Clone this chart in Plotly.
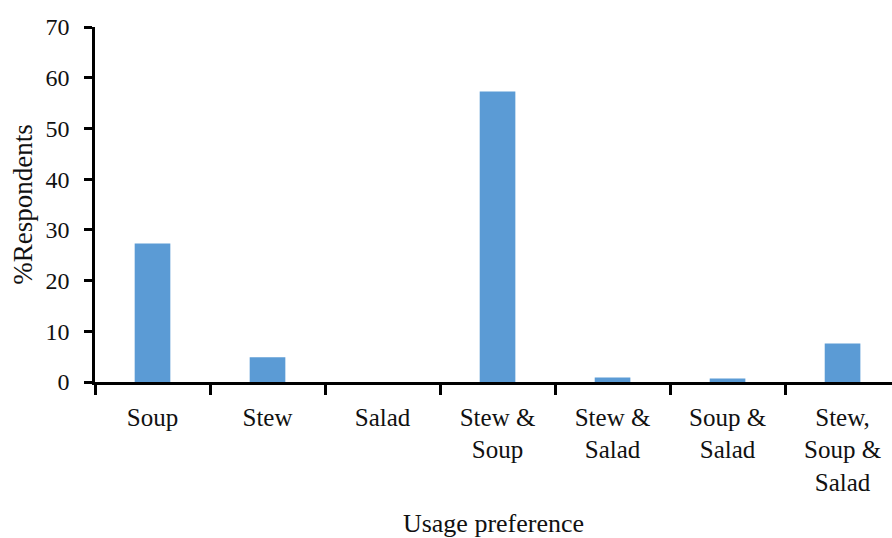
import plotly.graph_objects as go

categories = ["Soup", "Stew", "Salad", "Stew &<br>Soup", "Stew &<br>Salad",
              "Soup &<br>Salad", "Stew,<br>Soup &<br>Salad"]
respondents_pct = [27.3, 4.9, 0.0, 57.3, 0.9, 0.7, 7.6]
y_ticks = [0, 10, 20, 30, 40, 50, 60, 70]

FONT = "Liberation Serif"

fig = go.Figure(
    go.Bar(
        x=categories,
        y=respondents_pct,
        marker=dict(color="#5B9BD5", line=dict(width=0)),
    )
)

fig.update_layout(
    width=892,
    height=538,
    margin=dict(l=95, r=0, t=27, b=156),
    paper_bgcolor="white",
    plot_bgcolor="white",
    bargap=0.69,
    showlegend=False,
    font=dict(family=FONT, size=25, color="#111111"),
)

fig.update_xaxes(
    type="category",
    range=[-0.5, 6.43],
    showline=True,
    linecolor="black",
    linewidth=2.5,
    ticks="outside",
    tickson="boundaries",
    ticklen=10,
    tickwidth=2.5,
    tickcolor="black",
    showgrid=False,
    ticklabelstandoff=11,
    tickfont=dict(family=FONT, size=25),
    title=dict(text="Usage preference", font=dict(family=FONT, size=26), standoff=20),
)

fig.update_yaxes(
    range=[0, 70],
    tickvals=y_ticks,
    showline=True,
    linecolor="black",
    linewidth=2.5,
    ticks="outside",
    ticklen=8,
    tickwidth=2.5,
    tickcolor="black",
    showgrid=False,
    zeroline=False,
    ticklabelstandoff=10,
    tickfont=dict(family=FONT, size=24),
    title=dict(text="%Respondents", font=dict(family=FONT, size=27), standoff=6),
)

fig.write_html("out.html")
